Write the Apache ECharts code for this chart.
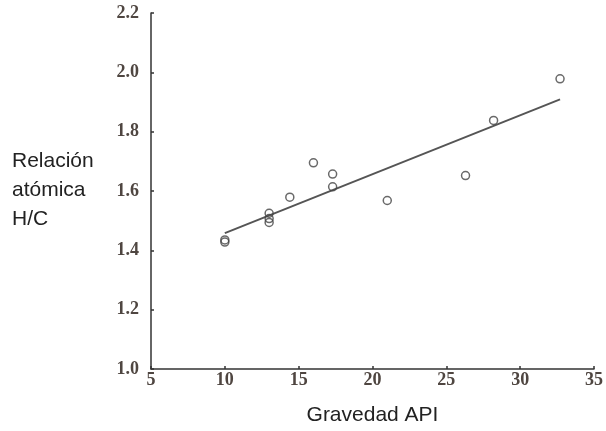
<!DOCTYPE html>
<html>
<head>
<meta charset="utf-8">
<style>html,body{margin:0;padding:0;background:#fff;}#c{width:606px;height:431px;}</style>
<script src="https://cdn.jsdelivr.net/npm/echarts@6/dist/echarts.min.js"></script>
</head>
<body>
<div id="c"></div>
<script>
// Observed data points (API gravity, atomic H/C ratio)
const apiGravity = [10, 10, 13, 13, 13, 14.4, 16, 17.3, 17.3, 21, 26.3, 28.2, 32.7];
const hcRatio    = [1.435, 1.428, 1.525, 1.507, 1.494, 1.579, 1.695, 1.657, 1.614, 1.568, 1.652, 1.838, 1.978];
// Regression line endpoints
const fitX = [10, 32.7];
const fitY = [1.458, 1.909];
// Axis ticks
const xTicks = [5, 10, 15, 20, 25, 30, 35];
const yTicks = ['1.0', '1.2', '1.4', '1.6', '1.8', '2.0', '2.2'];

const chart = echarts.init(document.getElementById('c'));
const tickFont = {fontFamily: 'Liberation Serif', fontSize: 18, color: '#4f4641', fontWeight: 'bold'};
chart.setOption({
  animation: false,
  backgroundColor: '#fff',
  title: {
    text: 'Relación\natómica\nH/C',
    left: 7, top: 142,
    textStyle: {fontFamily: 'Liberation Sans', fontSize: 21, fontWeight: 'normal', color: '#222', lineHeight: 29}
  },
  grid: {left: 151, right: 11, top: 13, bottom: 62},
  xAxis: {
    type: 'value', min: 5, max: 35, interval: 5,
    name: 'Gravedad API', nameLocation: 'middle', nameGap: 36,
    nameTextStyle: {fontFamily: 'Liberation Sans', fontSize: 21, color: '#222'},
    axisLine: {show: true, lineStyle: {color: '#333', width: 1.5}},
    axisTick: {show: true, inside: true, length: 3, lineStyle: {color: '#333', width: 1.5}},
    splitLine: {show: false},
    axisLabel: Object.assign({margin: 2, formatter: v => xTicks.includes(v) ? String(v) : ''}, tickFont)
  },
  yAxis: {
    type: 'value', min: 1.0, max: 2.2, interval: 0.2,
    axisLine: {show: true, lineStyle: {color: '#333', width: 1.5}},
    axisTick: {show: true, inside: true, length: 3, lineStyle: {color: '#333', width: 1.5}},
    splitLine: {show: false},
    axisLabel: Object.assign({margin: 12, formatter: v => yTicks[Math.round((v - 1.0) / 0.2)] || ''}, tickFont)
  },
  series: [
    {
      type: 'line',
      data: fitX.map((x, i) => [x, fitY[i]]),
      symbol: 'none',
      lineStyle: {color: '#555', width: 2},
      z: 2
    },
    {
      type: 'scatter',
      data: apiGravity.map((x, i) => [x, hcRatio[i]]),
      symbol: 'circle',
      symbolSize: 8,
      itemStyle: {color: 'rgba(255,255,255,0)', borderColor: '#444', borderWidth: 1.5},
      z: 3
    }
  ]
});
</script>
</body>
</html>
